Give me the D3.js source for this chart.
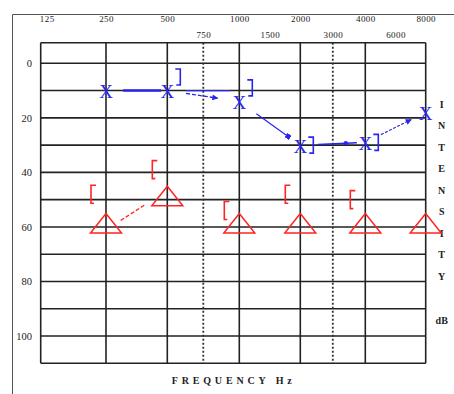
<!DOCTYPE html>
<html><head><meta charset="utf-8">
<script src="https://cdn.jsdelivr.net/npm/d3@7"></script>
<style>body{margin:0;background:#fff}svg{display:block}</style>
</head><body>
<script>
// ---------- DATA ----------
const octaveFreqs = [125, 250, 500, 1000, 2000, 4000, 8000];
const midFreqs = [750, 1500, 3000, 6000];
const dottedFreqs = [750, 3000];
const dbTicks = [0, 20, 40, 60, 80, 100];
const dbGrid = [0, 10, 20, 30, 40, 50, 60, 70, 80, 90, 100, 110];
const xFreqs = [250, 500, 1000, 2000, 4000, 8000];
const xValues = [10, 10, 14, 30, 29, 18];            // blue X
const blueBracketFreqs = [500, 1000, 2000, 4000];
const blueBracketValues = [5, 9, 30, 29];             // blue ]
const triFreqs = [250, 500, 1000, 2000, 4000, 8000];
const triValues = [60, 50, 60, 60, 60, 60];           // red triangles
const redBracketFreqs = [250, 500, 1000, 2000, 4000];
const redBracketValues = [48, 39, 54, 48, 50];        // red [
const intensityLetters = ["I","N","T","E","N","S","I","T","Y"];
const xTitle = "FREQUENCY Hz";
const unitLabel = "dB";

// ---------- LAYOUT ----------
const W = 454, H = 394;
const gridTop = 42.7;
const xStops = [40.7, 106, 167.3, 239.3, 300.3, 365.3, 425.7];
const x = d3.scaleLinear().domain(octaveFreqs).range(xStops);
const y = d3.scaleLinear().domain([0, 110]).range([63.3, 363.3]);
const gridBottom = y(110);
const BLUE = "#2626ee", RED = "#ff2424", INK = "#222";
const FONT = "'Liberation Serif','DejaVu Serif',serif";

const svg = d3.select("body").append("svg").attr("width", W).attr("height", H);
const defs = svg.append("defs");
defs.append("marker").attr("id","arrowB").attr("viewBox","0 0 10 10")
  .attr("refX",9).attr("refY",5).attr("markerWidth",7).attr("markerHeight",6)
  .attr("markerUnits","userSpaceOnUse").attr("orient","auto")
  .append("path").attr("d","M0,0L10,5L0,10Z").attr("fill",BLUE);
defs.append("marker").attr("id","squareB").attr("viewBox","0 0 10 10")
  .attr("refX",5).attr("refY",5).attr("markerWidth",5).attr("markerHeight",5)
  .attr("markerUnits","userSpaceOnUse").attr("orient","auto")
  .append("rect").attr("width",10).attr("height",10).attr("fill",BLUE);

// outer frame (top and left)
svg.append("line").attr("x1",12.5).attr("x2",W).attr("y1",14.5).attr("y2",14.5)
  .attr("stroke","#555").attr("stroke-width",1);
svg.append("line").attr("x1",12.5).attr("x2",12.5).attr("y1",14.5).attr("y2",H)
  .attr("stroke","#555").attr("stroke-width",1);

// grid
const g = svg.append("g");
g.selectAll("line.v").data(octaveFreqs).join("line").attr("class","v")
  .attr("x1", d=>x(d)).attr("x2", d=>x(d)).attr("y1", gridTop).attr("y2", gridBottom)
  .attr("stroke", INK).attr("stroke-width", 1.6);
g.selectAll("line.h").data(dbGrid).join("line").attr("class","h")
  .attr("x1", x(125)).attr("x2", x(8000)).attr("y1", d=>y(d)).attr("y2", d=>y(d))
  .attr("stroke", INK).attr("stroke-width", 1.6);
g.append("line").attr("x1", x(125)).attr("x2", x(8000)).attr("y1", gridTop).attr("y2", gridTop)
  .attr("stroke", INK).attr("stroke-width", 1.6);
g.selectAll("line.d").data(dottedFreqs).join("line").attr("class","d")
  .attr("x1", d=>x(d)).attr("x2", d=>x(d)).attr("y1", gridTop).attr("y2", gridBottom)
  .attr("stroke", "#333").attr("stroke-width", 1.8).attr("stroke-dasharray","2,2");

// axes (labels only)
function styleAxis(sel, size){
  sel.select(".domain").remove();
  sel.selectAll("text").attr("font-family", FONT).attr("font-size", size).attr("fill", INK);
}
const topAxis1 = svg.append("g").attr("transform","translate(0,22)")
  .call(d3.axisTop(x).tickValues(octaveFreqs).tickSize(0).tickPadding(0).tickFormat(d3.format("d")));
styleAxis(topAxis1, 9);
topAxis1.selectAll("text").attr("dx", d => d === 125 ? 6 : 0).attr("letter-spacing", 0.4);
const topAxis2 = svg.append("g").attr("transform","translate(0,38)")
  .call(d3.axisTop(x).tickValues(midFreqs).tickSize(0).tickPadding(0).tickFormat(d3.format("d")));
styleAxis(topAxis2, 9);
topAxis2.selectAll("text").attr("letter-spacing", 0.4);
const leftAxis = svg.append("g").attr("transform","translate(32,0)")
  .call(d3.axisLeft(y).tickValues(dbTicks).tickSize(0).tickPadding(0));
styleAxis(leftAxis, 10.5);

// right vertical title
svg.append("g").selectAll("text").data(intensityLetters).join("text")
  .attr("x", 441.7).attr("y", (d,i)=>104 + i*21.5 + 3.5)
  .attr("text-anchor","middle").attr("font-family", FONT).attr("font-size", 10)
  .attr("font-weight","bold").attr("fill", INK).text(d=>d);
svg.append("text").attr("x",441.7).attr("y",323.5).attr("text-anchor","middle")
  .attr("font-family", FONT).attr("font-size", 10).attr("font-weight","bold").attr("fill", INK)
  .text(unitLabel);
svg.append("text").attr("x",171.7).attr("y",384.2).attr("textLength",120).attr("lengthAdjust","spacing")
  .attr("font-family", FONT).attr("font-size", 10).attr("font-weight","bold").attr("fill", INK)
  .text(xTitle);

// ---------- BLUE SERIES ----------
const bluePts = xFreqs.map((f,i)=>[x(f), y(xValues[i])]);
const connectors = [
  {i:0, t0:0.28, t1:0.90, w:2.6, dash:null, end:null},
  {i:1, t0:0.26, t1:0.70, w:1.3, dash:"4,2", end:"url(#arrowB)"},
  {i:2, t0:0.28, t1:0.80, w:1.2, dash:null, end:"url(#squareB)"},
  {i:3, t0:0.27, t1:0.87, w:1.5, dash:null, end:null},
  {i:4, t0:0.26, t1:0.76, w:1.2, dash:"3,1.5", end:"url(#arrowB)"}
];
const lerp = (a,b,t)=>[a[0]+(b[0]-a[0])*t, a[1]+(b[1]-a[1])*t];
const cg = svg.append("g");
connectors.forEach(c=>{
  const a = bluePts[c.i], b = bluePts[c.i+1];
  const p0 = lerp(a,b,c.t0), p1 = lerp(a,b,c.t1);
  const ln = cg.append("line").attr("x1",p0[0]).attr("y1",p0[1]).attr("x2",p1[0]).attr("y2",p1[1])
    .attr("stroke",BLUE).attr("stroke-width",c.w);
  if (c.dash) ln.attr("stroke-dasharray", c.dash);
  if (c.end) ln.attr("marker-end", c.end);
});
// extra straight stroke leaving the 500 Hz X
cg.append("line").attr("x1", bluePts[1][0]+19).attr("x2", bluePts[2][0]-9)
  .attr("y1", bluePts[1][1]).attr("y2", bluePts[1][1]).attr("stroke",BLUE).attr("stroke-width",1.3);
// dot on 2000-4000 connector
const dotP = lerp(bluePts[3], bluePts[4], 0.7);
cg.append("circle").attr("cx",dotP[0]).attr("cy",dotP[1]).attr("r",2.2).attr("fill",BLUE);

svg.append("g").selectAll("text").data(xFreqs).join("text")
  .attr("x", d=>x(d)).attr("y", (d,i)=>y(xValues[i]) + 7.5)
  .attr("text-anchor","middle").attr("font-family", FONT).attr("font-size", 19)
  .attr("fill", BLUE).text("X");

svg.append("g").selectAll("path").data(blueBracketFreqs).join("path")
  .attr("d", (d,i)=>{ const bx = x(d)+13, by = y(blueBracketValues[i]);
    return `M${bx-5},${by-8}H${bx}V${by+8}H${bx-4}`; })
  .attr("fill","none").attr("stroke",BLUE).attr("stroke-width",1.6);

// ---------- RED SERIES ----------
const triPts = triFreqs.map((f,i)=>[x(f), y(triValues[i])]);
const rp0 = lerp(triPts[0], triPts[1], 0.24), rp1 = lerp(triPts[0], triPts[1], 0.65);
svg.append("line").attr("x1",rp0[0]).attr("y1",rp0[1]).attr("x2",rp1[0]).attr("y2",rp1[1]-5)
  .attr("stroke",RED).attr("stroke-width",1.3).attr("stroke-dasharray","4,2");

svg.append("g").selectAll("path").data(triPts).join("path")
  .attr("d", p=>`M${p[0]},${p[1]-13.5}L${p[0]+15.5},${p[1]+6}L${p[0]-15.5},${p[1]+6}Z`)
  .attr("fill","none").attr("stroke",RED).attr("stroke-width",1.5);

svg.append("g").selectAll("path").data(redBracketFreqs).join("path")
  .attr("d", (d,i)=>{ const bx = x(d)-15, by = y(redBracketValues[i]);
    return `M${bx+5},${by-9}H${bx}V${by+9}H${bx+3}`; })
  .attr("fill","none").attr("stroke",RED).attr("stroke-width",1.6);
</script>
</body></html>
